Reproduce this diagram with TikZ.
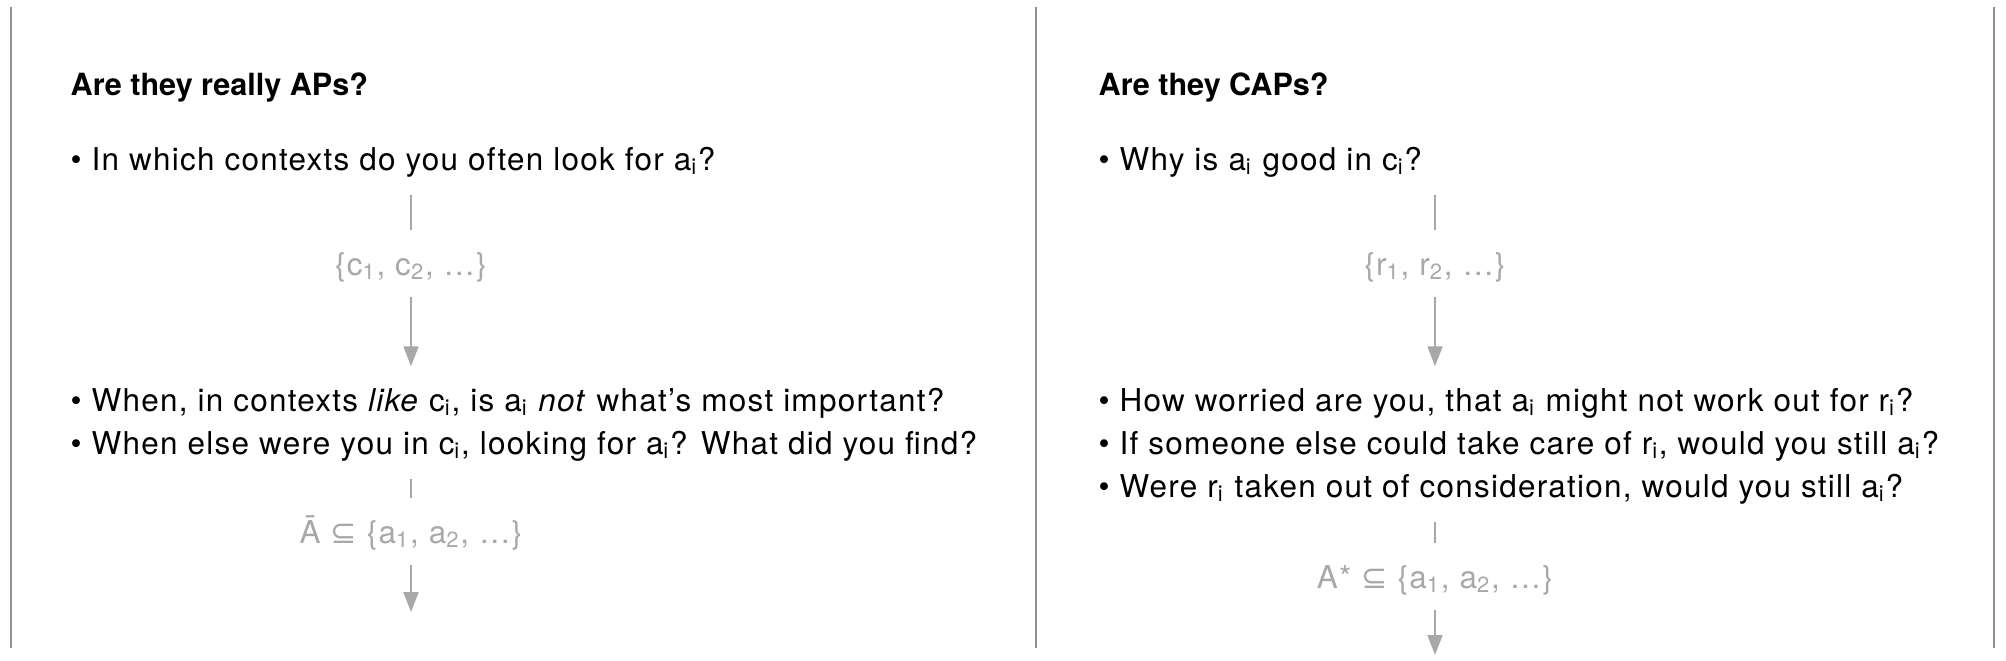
\documentclass[tikz,border=0pt]{standalone}
\usepackage{fontspec}
\setmainfont{TeX Gyre Heros}
\newfontfamily\bodyfont{TeX Gyre Heros}[LetterSpace=4.0]
\newfontfamily\symfont{DejaVu Sans}
\usepackage{xcolor}
\usetikzlibrary{arrows.meta,positioning}
\definecolor{rulegray}{RGB}{145,145,145}
\definecolor{flowgray}{RGB}{168,168,168}
\newcommand{\idx}[1]{\textsubscript{#1}}

\begin{document}
\begin{tikzpicture}[
    txt/.style={anchor=base west,inner sep=0pt,text height=0.23cm,text depth=0.07cm,font=\fontsize{8.95}{10.4}\selectfont\bodyfont},
    head/.style={txt,font=\fontsize{8.7}{10.4}\selectfont\rmfamily\bfseries},
    settxt/.style={txt,anchor=base,text=flowgray},
    stem/.style={draw=flowgray,line width=0.5pt,shorten <=0.17cm,shorten >=0.21cm},
    flow/.style={stem,-{Triangle[length=0.2cm,width=0.15cm]},shorten <=0.14cm}
  ]
  \useasboundingbox (0,0) rectangle (20.06,-6.60);

  % Panel rules
  \draw[rulegray,line width=0.6pt] (0.11,-0.07) -- (0.11,-6.48);
  \draw[rulegray,line width=0.6pt] (10.36,-0.07) -- (10.36,-6.48);
  \draw[rulegray,line width=0.6pt] (19.94,-0.07) -- (19.94,-6.48);

  % Left panel
  \node[head] (ap) at (0.70,-0.95) {Are they really APs?};
  \node[txt] (q1) at (0.70,-1.70) {• In which contexts do you often look for a\idx{i}?};
  \node[settxt] (cset) at (4.11,-2.75) {\{c\idx{1}, c\idx{2}, …\}};
  \node[txt] (q2) at (0.70,-4.11) {• When, in contexts \textit{like} c\idx{i}, is a\idx{i} \textit{not} what’s most important?};
  \node[txt] (q3) at (0.70,-4.54) {• When else were you in c\idx{i}, looking for a\idx{i}? What did you find?};
  \node[settxt] (abar) at (4.11,-5.43) {Ā {\symfont ⊆} \{a\idx{1}, a\idx{2}, …\}};
  \coordinate (aend) at (4.11,-6.12);

  \draw[stem] (q1.south -| cset.north) -- (cset.north);
  \draw[flow] (cset.south) -- (cset.south |- q2.north);
  \draw[stem] (q3.south -| abar.north) -- (abar.north);
  \draw[flow,shorten >=0pt] (abar.south) -- (aend);

  % Right panel
  \node[head] (cap) at (10.98,-0.95) {Are they CAPs?};
  \node[txt] (r1) at (10.98,-1.70) {• Why is a\idx{i} good in c\idx{i}?};
  \node[settxt] (rset) at (14.35,-2.75) {\{r\idx{1}, r\idx{2}, …\}};
  \node[txt] (r2) at (10.98,-4.11) {• How worried are you, that a\idx{i} might not work out for r\idx{i}?};
  \node[txt] (r3) at (10.98,-4.54) {• If someone else could take care of r\idx{i}, would you still a\idx{i}?};
  \node[txt] (r4) at (10.98,-4.97) {• Were r\idx{i} taken out of consideration, would you still a\idx{i}?};
  \node[settxt] (astar) at (14.35,-5.88) {A* {\symfont ⊆} \{a\idx{1}, a\idx{2}, …\}};
  \coordinate (send) at (14.35,-6.55);

  \draw[stem] (r1.south -| rset.north) -- (rset.north);
  \draw[flow] (rset.south) -- (rset.south |- r2.north);
  \draw[stem] (r4.south -| astar.north) -- (astar.north);
  \draw[flow,shorten >=0pt] (astar.south) -- (send);
\end{tikzpicture}
\end{document}
